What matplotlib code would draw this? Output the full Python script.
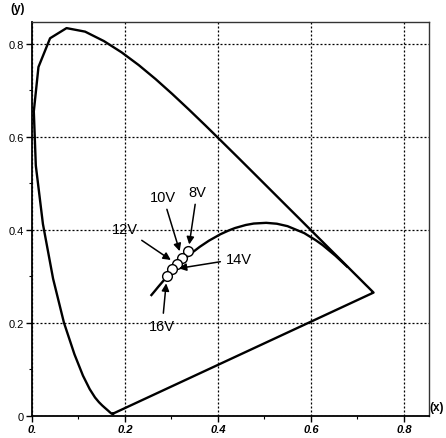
import numpy as np
import matplotlib.pyplot as plt
from matplotlib.ticker import MultipleLocator

plt.rcParams['font.family'] = ['Liberation Sans', 'DejaVu Sans']

# CIE 1931 spectral locus (x, y), 380..700 nm
locus_x = [0.1741, 0.1738, 0.1733, 0.1726, 0.1714, 0.1703, 0.1689, 0.1669, 0.1644,
           0.1611, 0.1566, 0.1510, 0.1440, 0.1355, 0.1241, 0.1096, 0.0913, 0.0687,
           0.0454, 0.0235, 0.0082, 0.0039, 0.0139, 0.0389, 0.0743, 0.1142, 0.1547,
           0.1929, 0.2296, 0.2658, 0.3016, 0.3373, 0.3731, 0.4087, 0.4441, 0.4788,
           0.5125, 0.5448, 0.5752, 0.6029, 0.6270, 0.6482, 0.6658, 0.6801, 0.6915,
           0.7006, 0.7079, 0.7140, 0.7190, 0.7230, 0.7260, 0.7300, 0.7334, 0.7347]
locus_y = [0.0050, 0.0049, 0.0048, 0.0048, 0.0051, 0.0058, 0.0069, 0.0086, 0.0109,
           0.0138, 0.0177, 0.0227, 0.0297, 0.0399, 0.0578, 0.0868, 0.1327, 0.2007,
           0.2950, 0.4127, 0.5384, 0.6548, 0.7502, 0.8120, 0.8338, 0.8262, 0.8059,
           0.7816, 0.7543, 0.7243, 0.6923, 0.6589, 0.6245, 0.5896, 0.5547, 0.5202,
           0.4866, 0.4544, 0.4242, 0.3965, 0.3725, 0.3514, 0.3340, 0.3197, 0.3083,
           0.2993, 0.2920, 0.2859, 0.2809, 0.2770, 0.2740, 0.2700, 0.2666, 0.2653]

# Planckian locus, 20000 K down to 800 K
bb_x = [0.2569, 0.2642, 0.2720, 0.2807, 0.2869, 0.2952, 0.3064, 0.3135, 0.3221,
        0.3325, 0.3451, 0.3608, 0.3805, 0.4053, 0.4236, 0.4369, 0.4599, 0.4770,
        0.5038, 0.5267, 0.5496, 0.5857, 0.6106, 0.6251, 0.6528, 0.6776]
bb_y = [0.2600, 0.2687, 0.2782, 0.2884, 0.2956, 0.3048, 0.3166, 0.3237, 0.3318,
        0.3411, 0.3516, 0.3636, 0.3768, 0.3907, 0.3990, 0.4041, 0.4106, 0.4137,
        0.4152, 0.4133, 0.4081, 0.3931, 0.3777, 0.3674, 0.3444, 0.3213]

# measured points
labels = ['8V', '10V', '12V', '14V', '16V']
pt_x = [0.336, 0.322, 0.311, 0.301, 0.290]
pt_y = [0.354, 0.340, 0.327, 0.315, 0.300]

fig = plt.figure(figsize=(4.46, 4.39), dpi=100)
ax = fig.add_axes([32/446, 22/439, 397/446, 394.5/439])

ax.plot(locus_x + locus_x[:1], locus_y + locus_y[:1], color='black', lw=1.7,
        solid_joinstyle='round', zorder=3)
ax.plot(bb_x, bb_y, color='black', lw=1.7, solid_joinstyle='round', zorder=3)
ax.plot(pt_x, pt_y, 'o', ms=7, mfc='white', mec='black', mew=1.0, zorder=5)

txt_pos = {'8V': (0.355, 0.482), '10V': (0.282, 0.471), '12V': (0.200, 0.402),
           '14V': (0.445, 0.338), '16V': (0.280, 0.194)}
for lab, x, y in zip(labels, pt_x, pt_y):
    tx, ty = txt_pos[lab]
    ax.annotate(lab, xy=(x, y), xytext=(tx, ty), fontsize=10.5, ha='center', va='center',
                arrowprops=dict(arrowstyle='-|>', color='black', lw=1.1,
                                mutation_scale=11, shrinkA=2, shrinkB=5), zorder=6)

ax.set_xlim(0, 0.854)
ax.set_ylim(0, 0.848)
ax.xaxis.set_minor_locator(MultipleLocator(0.1))
ax.yaxis.set_minor_locator(MultipleLocator(0.1))
ax.set_xticks([0, 0.2, 0.4, 0.6, 0.8])
ax.set_xticklabels(['0.', '0.2', '0.4', '0.6', '0.8'], fontstyle='italic',
                   fontweight='bold', fontsize=8)
ax.set_yticks([0, 0.2, 0.4, 0.6, 0.8])
ax.set_yticklabels(['0', '0.2', '0.4', '0.6', '0.8'], fontsize=8)
ax.tick_params(which='major', length=4, width=1, direction='out', pad=2)
ax.tick_params(which='minor', length=2, width=0.8, direction='out')
ax.grid(True, which='major', linestyle=(0, (1.6, 1.6)), color='black', lw=0.9)
ax.set_axisbelow(True)
for side in ['left', 'bottom']:
    ax.spines[side].set_linewidth(1.3)
for side in ['top', 'right']:
    ax.spines[side].set_linewidth(1.0)
    ax.spines[side].set_color('#333333')

fig.text(18/446, 1 - 9/439, '(y)', fontsize=8.5, fontweight='bold', ha='center', va='center')
fig.text(437/446, 1 - 408/439, '(x)', fontsize=8.5, fontweight='bold', ha='center', va='center')

fig.savefig('out.png', dpi=100)
